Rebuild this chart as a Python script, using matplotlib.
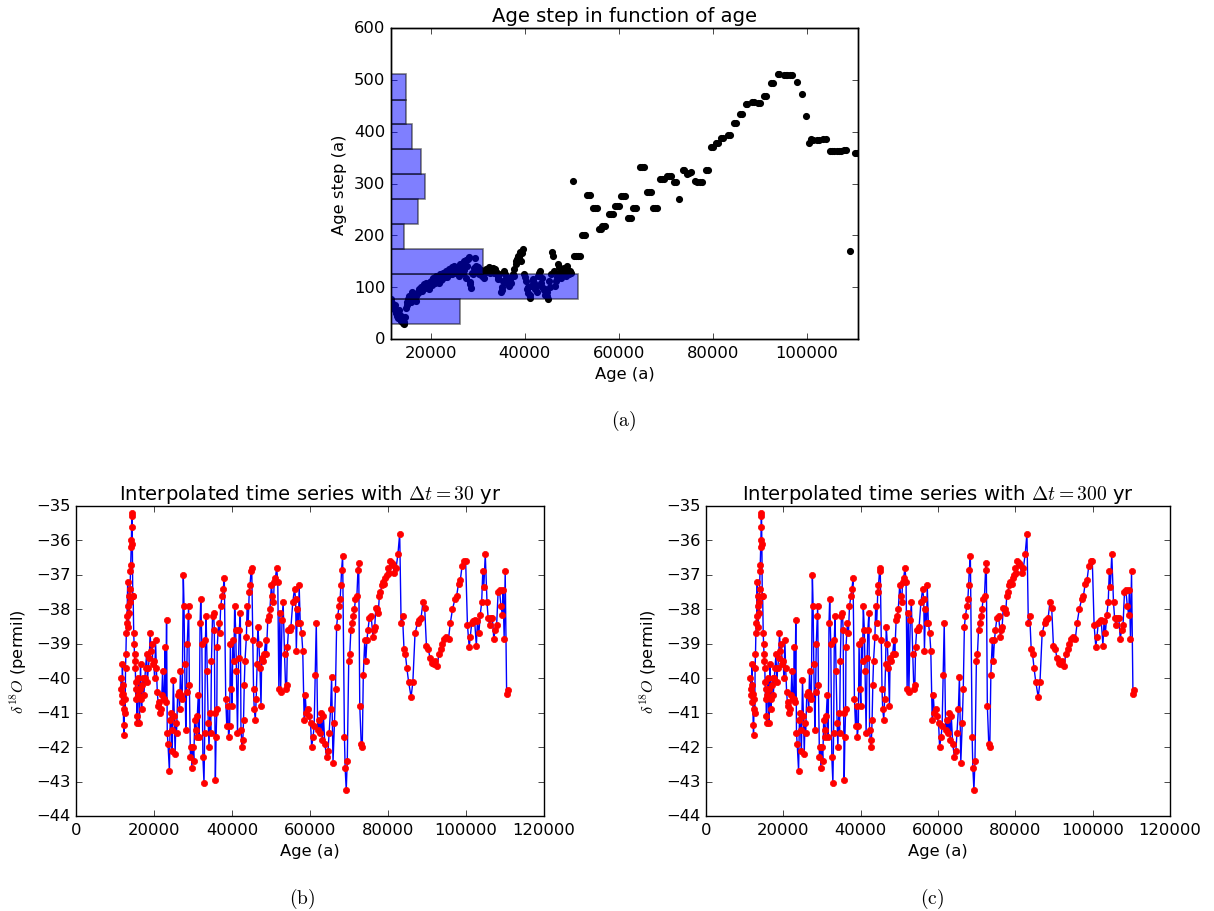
import numpy as np
import matplotlib
matplotlib.use('Agg')
import matplotlib.pyplot as plt

plt.style.use('classic')
plt.rcParams['mathtext.fontset'] = 'cm'
plt.rcParams['font.size'] = 11.75

""" DATA """
# (a) age step as a function of age
step_age = [
    11700, 11900, 12100, 12300, 12500, 12700, 12900, 13100, 13300, 13500,
    13700, 13900, 14100, 14300, 14500, 14700, 14900, 15200, 15500, 15800,
    16100, 16400, 16700, 17000, 17300, 17600, 17900, 18200, 18500, 18800,
    19100, 19400, 19700, 20000, 20300, 20600, 20900, 21200, 21500, 21800,
    22100, 22400, 22700, 23000, 23300, 23600, 23900, 24200, 24500, 24800,
    25100, 25400, 25700, 26000, 26300, 26600, 26900, 27200, 27500, 27800,
    28000, 28300, 28600, 28900, 29200, 29500, 29800, 30100, 30400, 30700,
    31000, 31300, 31600, 31900, 32200, 32500, 32800, 33100, 33400, 33700,
    34000, 34300, 34600, 34900, 35100, 35400, 35700, 36000, 36300, 36600,
    36900, 37200, 37500, 37800, 38100, 38400, 38700, 39000, 39300, 39600,
    39900, 40200, 40500, 40800, 41100, 41400, 41700, 42000, 42300, 42600,
    42900, 43200, 43500, 43800, 44100, 44400, 44700, 45000, 45300, 45600,
    45900, 46200, 46500, 46800, 47100, 47400, 47700, 48000, 48300, 48600,
    48900, 49200, 49500, 49800, 50300,
    50600, 51000, 51400, 51800, 52200, 52600, 52900, 53300, 53700, 54000,
    54600, 55000, 55300, 55800, 56200, 56500, 56900, 57200, 57900, 58300,
    58700, 59300, 59700, 60000, 60600, 61000, 61300, 61900, 62300, 62600,
    63100, 63500, 63800, 64600, 64900, 65300, 66000, 66400, 66800, 67400,
    67800, 68200, 68900, 69300, 69600, 70300, 70700, 71100, 71800, 72200,
    72900, 73600, 73900, 74500, 74900, 75300, 76200, 76600, 77400, 77800,
    78500, 78900, 79700, 80000, 80700, 81100, 81800, 82200, 83200, 83600,
    84500, 84900, 85800, 86200, 87000, 87400, 88300, 88700, 89600, 90000,
    90900, 91300, 92500, 92900, 93800, 94200, 95100, 95500, 95900, 96400,
    96800, 97900, 98900, 99800, 100500, 101000, 101400, 102200, 102600, 103500,
    104000, 104900, 105300, 105700, 106500, 106900, 107300, 108000, 108400, 109200,
    110300, 110700,
]
step_val = [
    77, 70, 62, 58, 66, 50, 45, 40, 55, 38,
    35, 42, 30, 29, 42, 60, 71, 78, 83, 72,
    90, 85, 78, 74, 88, 96, 100, 92, 103, 98,
    109, 104, 96, 112, 105, 115, 108, 122, 118, 109,
    125, 116, 128, 120, 131, 119, 135, 126, 138, 130,
    141, 128, 135, 122, 144, 138, 128, 150, 118, 140,
    154, 106, 99, 128, 137, 157, 130, 138, 125, 133,
    122, 128, 131, 136, 129, 138, 133, 131, 127, 135,
    130, 120, 125, 90, 100, 112, 131, 118, 109, 103,
    115, 120, 126, 135, 145, 154, 160, 167, 150, 173,
    125, 112, 96, 88, 80, 102, 115, 108, 96, 90,
    122, 131, 109, 100, 94, 85, 90, 77, 112, 125,
    167, 131, 103, 120, 144, 128, 118, 128, 137, 135,
    122, 130, 125, 128, 305,
    160, 160, 160, 160, 201, 201, 201, 277, 277, 277,
    252, 252, 252, 212, 212, 218, 218, 218, 241, 241,
    241, 257, 257, 257, 276, 276, 276, 234, 234, 234,
    252, 252, 252, 331, 331, 331, 284, 284, 284, 252,
    252, 252, 309, 309, 309, 315, 315, 315, 303, 303,
    271, 327, 327, 319, 321, 323, 305, 303, 302, 302,
    327, 327, 370, 370, 379, 379, 388, 388, 393, 393,
    417, 417, 434, 434, 453, 453, 458, 458, 456, 456,
    469, 469, 494, 494, 512, 512, 510, 510, 510, 510,
    510, 496, 472, 431, 379, 386, 383, 383, 383, 386,
    386, 363, 363, 363, 363, 363, 363, 364, 364, 169,
    358, 358,
]
# second pass over the dense early part
step_age_dense = [
    12000, 12600, 13200, 13800, 14400, 15000, 15650, 16250, 16850, 17450,
    18050, 18650, 19250, 19850, 20450, 21050, 21650, 22250, 22850, 23450,
    24050, 24650, 25250, 25850, 26450, 27050, 27650, 28150, 28450, 29050,
    29650, 30250, 30850, 31450, 32050, 32650, 33250, 33850, 34450, 35250,
    35850, 36450, 37050, 37650, 38250, 38850, 39450, 40050, 40650, 41250,
    41850, 42450, 43050, 43650, 44250, 44850, 45450, 46050, 46650, 47250,
    47850, 48450, 49050, 49650,
]
step_val_dense = [
    65, 52, 48, 44, 33, 66, 80, 88, 82, 92,
    97, 106, 100, 110, 118, 112, 120, 114, 124, 128,
    132, 125, 137, 130, 141, 133, 152, 158, 110, 126,
    140, 131, 126, 118, 134, 128, 137, 129, 115, 95,
    125, 114, 108, 122, 150, 158, 165, 120, 100, 85,
    112, 102, 128, 118, 96, 82, 100, 160, 112, 138,
    125, 130, 140, 132,
]
hist_edges = [29, 77, 125, 173, 221, 270, 318, 366, 414, 462, 511]
hist_counts = [147, 401, 196, 28, 57, 73, 65, 46, 32, 32]

# (b), (c) d18O record
d18o_age = [
    11500, 11600, 11700, 11800, 11900, 12000, 12100, 12200, 12300, 12400,
    12500, 12600, 12700, 12800, 12900, 13000, 13100, 13250, 13350, 13450,
    13550, 13650, 13750, 13850, 13950, 14050, 14150, 14200, 14250, 14300,
    14350, 14450, 14550, 14650, 14800, 14900, 15000, 15100, 15200, 15300,
    15400, 15500, 15600, 15700, 15850, 16000, 16150, 16270, 16400, 16550,
    16700, 16850, 17000, 17200, 17400, 17650, 17850, 18100, 18300, 18550,
    18800, 19000, 19250, 19500, 19700, 19950, 20150, 20400, 20600, 20850,
    21100, 21300, 21550, 21750, 22000, 22200, 22450, 22670, 22850, 23000,
    23220, 23400, 23580, 23950, 24150, 24310, 24500, 24680, 24950, 25200,
    25410, 25600, 25780, 26050, 26330, 26550, 26780, 27000, 27240, 27510,
    27700, 27880, 28150, 28340, 28520, 28790, 28880, 29070, 29340, 29550,
    29710, 29980, 30200, 30440, 30700, 30900, 31100, 31350, 31600, 31810,
    31990, 32270, 32540, 32820, 33000, 33180, 33360, 33640, 33910, 34100,
    34350, 34550, 34730, 35010, 35280, 35470, 35600, 35740, 35920, 36110,
    36200, 36560, 36840, 37110, 37480, 37750, 38030, 38390, 38670, 38940,
    39120, 39400, 39580, 39850, 40040, 40220, 40490, 40680, 40950, 41130,
    41410, 41680, 41860, 42140, 42300, 42600, 42780, 42960, 43140, 43330,
    43690, 43880, 44150, 44420, 44610, 44880, 45060, 45340, 45520, 45700,
    45980, 46200, 46440, 46620, 46890, 47170, 47440, 47620, 47900, 48260,
    48630, 48810, 49180, 49450, 49730, 50090, 50370, 50640, 50820, 51100,
    51460, 51740, 52010, 52290, 52470, 52830, 53110, 53470, 53750, 54020,
    54200, 54480, 54840, 55120, 55580, 56030, 56310, 56490, 56760, 57040,
    57220, 57500, 57860, 58140, 58500, 58780, 59050, 59410, 59690, 60150,
    60420, 60790, 61060, 61330, 61610, 61970, 62250, 62610, 62890, 63160,
    63440, 63800, 64260, 64630, 64900, 65270, 65540, 65900, 66270, 66540,
    66820, 67090, 67460, 67730, 67920, 68100, 68370, 68830, 69010, 69290,
    69560, 69930, 70200, 70480, 70750, 71120, 71390, 71660, 72030, 72300,
    72490, 72760, 73130, 73400, 73670, 74040, 74310, 74590, 74860, 75230,
    75690, 76140, 76420, 76600, 76870, 77240, 77510, 77790, 78060, 78430,
    78700, 79070, 79340, 79620, 79980, 80260, 80530, 80900, 81170, 81630,
    82080, 82540, 83000, 83360, 83730, 84100, 84460, 84830, 85280, 85920,
    86380, 86930, 87570, 88030, 88480, 88940, 89400, 89850, 90310, 90770,
    91220, 91680, 92140, 92600, 93050, 93600, 93970, 94420, 94880, 95520,
    95980, 96530, 97170, 97620, 98080, 98540, 98990, 99450, 99910, 100370,
    100820, 101100, 101460, 101920, 102190, 102650, 102930, 103290, 103660, 104020,
    104300, 104570, 104940, 105390, 105670, 106030, 106400, 106760, 107130, 107500,
    107860, 108230, 108590, 108960, 109320, 109510, 109780, 110050, 110420, 110690,
]
d18o_val = [
    -40.0, -40.3, -40.5, -40.7, -39.6, -40.2, -40.45, -41.35, -41.65, -40.9,
    -40.6, -41.0, -39.7, -39.3, -38.7, -38.4, -38.2, -37.2, -37.9, -38.5,
    -37.6, -38.1, -37.8, -37.4, -36.9, -36.7, -36.2, -36.0, -35.6, -35.3,
    -35.2, -36.1, -37.6, -37.6, -38.7, -39.0, -39.3, -39.5, -39.7, -40.1,
    -40.6, -40.3, -41.1, -41.3, -40.5, -40.0, -40.3, -41.3, -40.3, -39.6,
    -40.6, -40.9, -40.2, -40.0, -40.5, -40.0, -39.7, -39.3, -40.1, -39.7,
    -39.4, -38.7, -39.2, -39.0, -39.6, -39.5, -40.0, -38.9, -39.7, -40.4,
    -40.8, -40.7, -41.0, -40.9, -40.5, -39.8, -40.6, -40.6, -39.1, -40.7,
    -38.3, -41.6, -41.9, -42.7, -41.2, -41.0, -41.5, -42.1, -40.05, -41.1,
    -42.2, -41.3, -41.6, -40.5, -40.4, -40.9, -39.8, -40.5, -40.6, -37.0,
    -37.9, -39.6, -41.5, -40.4, -39.0, -38.2, -37.9, -40.2, -42.3, -42.0,
    -42.6, -42.0, -42.4, -41.2, -41.5, -41.7, -41.1, -40.5, -41.7, -38.4,
    -37.7, -39.0, -42.3, -43.05, -41.6, -38.9, -38.2, -39.8, -41.3, -42.0,
    -41.0, -41.6, -39.5, -38.2, -38.1, -38.6, -41.0, -42.95, -41.7, -40.9,
    -39.1, -38.4, -38.7, -37.9, -37.6, -37.4, -37.1, -40.6, -41.4, -40.8,
    -41.7, -41.4, -39.0, -40.3, -40.8, -38.9, -39.5, -37.9, -38.6, -39.8,
    -41.6, -39.4, -38.6, -38.1, -41.5, -42.0, -41.8, -41.2, -40.2, -39.5,
    -38.8, -37.9, -38.4, -37.5, -37.3, -36.9, -36.8, -38.9, -40.3, -40.9,
    -41.2, -40.6, -39.6, -38.5, -39.0, -39.7, -40.8, -39.4, -39.5, -39.3,
    -38.9, -39.3, -38.3, -38.2, -38.0, -37.3, -37.6, -37.8, -37.2, -37.1,
    -36.8, -37.2, -40.3, -38.1, -40.4, -38.3, -37.8, -39.3, -40.3, -40.2,
    -39.1, -38.6, -38.6, -38.5, -37.8, -37.4, -37.7, -39.2, -38.0, -38.4,
    -37.3, -38.4, -38.7, -39.2, -41.2, -40.5, -41.0, -40.9, -41.1, -41.3,
    -42.0, -41.7, -41.4, -39.9, -38.4, -41.5, -41.2, -41.6, -41.0, -41.8,
    -41.1, -41.9, -42.3, -42.1, -41.6, -40.9, -39.95, -42.45, -41.3, -40.3,
    -38.5, -38.2, -37.9, -37.7, -37.3, -36.85, -36.45, -41.7, -42.6, -43.25,
    -42.4, -39.5, -39.3, -38.6, -38.4, -38.2, -38.0, -37.7, -37.6, -36.85,
    -36.65, -40.8, -41.9, -42.0, -39.9, -38.9, -39.5, -38.9, -38.6, -38.25,
    -38.2, -38.8, -38.6, -38.5, -37.95, -38.0, -38.1, -37.6, -37.5, -37.3,
    -37.2, -37.25, -37.1, -37.0, -36.8, -36.95, -36.6, -36.65, -36.7, -36.95,
    -36.8, -36.4, -35.8, -38.4, -38.2, -39.15, -39.3, -39.7, -40.1, -40.55,
    -40.1, -38.7, -38.4, -38.3, -38.25, -37.8, -37.95, -39.05, -39.15, -39.4,
    -39.55, -39.6, -39.5, -39.65, -39.3, -39.15, -39.0, -38.85, -38.8, -38.85,
    -38.4, -38.0, -37.7, -37.6, -37.25, -37.15, -36.75, -36.6, -36.6, -38.45,
    -39.1, -38.8, -38.4, -38.35, -38.3, -39.05, -38.35, -38.7, -38.15, -37.8,
    -36.9, -37.35, -36.4, -37.8, -38.25, -38.45, -38.25, -38.25, -38.85, -38.6,
    -38.45, -37.5, -37.45, -37.9, -38.15, -37.45, -38.85, -36.9, -40.45, -40.35,
]

titles = [r'Interpolated time series with $\Delta t = 30$ yr',
          r'Interpolated time series with $\Delta t = 300$ yr']


def px(x0, y0, x1, y1, W=1214, H=912):
    return [x0 / W, 1 - y1 / H, (x1 - x0) / W, (y1 - y0) / H]


fig = plt.figure(figsize=(12.14, 9.12), dpi=100, facecolor='white')

# ---- (a) ----
ax = fig.add_axes(px(391, 29, 858, 340))
ax.scatter(step_age + step_age_dense, step_val + step_val_dense,
           s=17, color='black', edgecolor='black', zorder=2)
ax.set_xlim(11600, 110900)
ax.set_ylim(0, 600)
ax.set_xticks([20000, 40000, 60000, 80000, 100000])
ax.set_title('Age step in function of age')
ax.set_xlabel('Age (a)')
ax.set_ylabel('Age step (a)')

ax2 = ax.twiny()
ax2.barh(hist_edges[:-1], hist_counts, height=np.diff(hist_edges), align='edge',
         color='blue', alpha=0.5, edgecolor='black', linewidth=1.2)
ax2.set_xlim(0, 1000)
ax2.set_xticks([])
ax.tick_params(axis='x', top=True, labeltop=False)

# ---- (b), (c) ----
for i, (x0, x1) in enumerate([(76, 544), (706, 1170)]):
    axb = fig.add_axes(px(x0, 507, x1, 817))
    axb.plot(d18o_age, d18o_val, '-', color='blue', lw=1.0)
    axb.plot(d18o_age, d18o_val, 'o', color='red', mec='red', ms=4.5)
    axb.set_xlim(0, 120000)
    axb.set_ylim(-44, -35)
    axb.set_title(titles[i])
    axb.set_xlabel('Age (a)')
    axb.set_ylabel(r'$\delta^{18}O$ (permil)')

fig.text(624 / 1214, 1 - 421 / 912, r'$\mathrm{(a)}$', ha='center', va='center', fontsize=14)
fig.text(302 / 1214, 1 - 899 / 912, r'$\mathrm{(b)}$', ha='center', va='center', fontsize=14)
fig.text(932 / 1214, 1 - 899 / 912, r'$\mathrm{(c)}$', ha='center', va='center', fontsize=14)

fig.savefig('out.png', dpi=100, facecolor='white')
